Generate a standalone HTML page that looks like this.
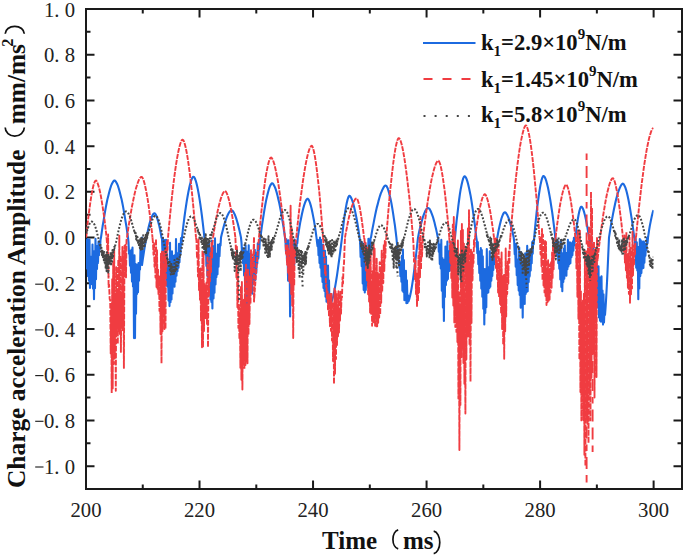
<!DOCTYPE html>
<html><head><meta charset="utf-8"><style>html,body{margin:0;padding:0;background:#fff;width:685px;height:556px;overflow:hidden}svg{display:block}</style></head>
<body><svg width="685" height="556" viewBox="0 0 685 556"><rect x="86.0" y="9.0" width="596.0" height="480.0" fill="none" stroke="#1a1a1a" stroke-width="2"/><path d="M142.76 489.0v-4.5M142.76 9.0v4.5M199.52 489.0v-8.5M199.52 9.0v8.5M256.29 489.0v-4.5M256.29 9.0v4.5M313.05 489.0v-8.5M313.05 9.0v8.5M369.81 489.0v-4.5M369.81 9.0v4.5M426.57 489.0v-8.5M426.57 9.0v8.5M483.33 489.0v-4.5M483.33 9.0v4.5M540.10 489.0v-8.5M540.10 9.0v8.5M596.86 489.0v-4.5M596.86 9.0v4.5M653.62 489.0v-8.5M653.62 9.0v8.5M86.0 489.00h4.5M682.0 489.00h-4.5M86.0 466.14h8.5M682.0 466.14h-8.5M86.0 443.29h4.5M682.0 443.29h-4.5M86.0 420.43h8.5M682.0 420.43h-8.5M86.0 397.57h4.5M682.0 397.57h-4.5M86.0 374.71h8.5M682.0 374.71h-8.5M86.0 351.86h4.5M682.0 351.86h-4.5M86.0 329.00h8.5M682.0 329.00h-8.5M86.0 306.14h4.5M682.0 306.14h-4.5M86.0 283.29h8.5M682.0 283.29h-8.5M86.0 260.43h4.5M682.0 260.43h-4.5M86.0 237.57h8.5M682.0 237.57h-8.5M86.0 214.71h4.5M682.0 214.71h-4.5M86.0 191.86h8.5M682.0 191.86h-8.5M86.0 169.00h4.5M682.0 169.00h-4.5M86.0 146.14h8.5M682.0 146.14h-8.5M86.0 123.29h4.5M682.0 123.29h-4.5M86.0 100.43h8.5M682.0 100.43h-8.5M86.0 77.57h4.5M682.0 77.57h-4.5M86.0 54.71h8.5M682.0 54.71h-8.5M86.0 31.86h4.5M682.0 31.86h-4.5" stroke="#1a1a1a" stroke-width="2" fill="none"/><g font-family="Liberation Serif" font-size="20.7" fill="#222"><text x="75" y="16.5" text-anchor="end" xml:space="preserve">1. 0</text><text x="75" y="62.2" text-anchor="end" xml:space="preserve">0. 8</text><text x="75" y="107.9" text-anchor="end" xml:space="preserve">0. 6</text><text x="75" y="153.6" text-anchor="end" xml:space="preserve">0. 4</text><text x="75" y="199.4" text-anchor="end" xml:space="preserve">0. 2</text><text x="75" y="245.1" text-anchor="end" xml:space="preserve">0. 0</text><text x="75" y="290.8" text-anchor="end" xml:space="preserve">0. 2</text><path d="M35.2 284.2H43.5" stroke="#222" stroke-width="1.15"/><text x="75" y="336.5" text-anchor="end" xml:space="preserve">0. 4</text><path d="M35.2 329.9H43.5" stroke="#222" stroke-width="1.15"/><text x="75" y="382.2" text-anchor="end" xml:space="preserve">0. 6</text><path d="M35.2 375.6H43.5" stroke="#222" stroke-width="1.15"/><text x="75" y="427.9" text-anchor="end" xml:space="preserve">0. 8</text><path d="M35.2 421.3H43.5" stroke="#222" stroke-width="1.15"/><text x="75" y="473.6" text-anchor="end" xml:space="preserve">1. 0</text><path d="M35.2 467.0H43.5" stroke="#222" stroke-width="1.15"/><text x="86.0" y="516.5" text-anchor="middle">200</text><text x="199.5" y="516.5" text-anchor="middle">220</text><text x="313.0" y="516.5" text-anchor="middle">240</text><text x="426.6" y="516.5" text-anchor="middle">260</text><text x="540.1" y="516.5" text-anchor="middle">280</text><text x="653.6" y="516.5" text-anchor="middle">300</text></g><g font-family="Liberation Serif" font-weight="bold" font-size="25" fill="#111"><text x="322" y="548.5">Time</text><text x="403" y="548.5">ms</text></g><path d="M398.2 529.9 A6.6 9.7 0 0 0 398.2 548.9" stroke="#111" stroke-width="1.7" fill="none"/><path d="M433.7 531.2 A7.0 11.3 0 0 1 433.7 553.6" stroke="#111" stroke-width="1.7" fill="none"/><g transform="translate(24.5,487) rotate(-90)" font-family="Liberation Serif" font-weight="bold" font-size="25" fill="#111"><text x="-1" y="0" font-size="25.4">Charge acceleration Amplitude</text><text x="362.8" y="0" font-size="25.3">mm/ms</text><text x="440.3" y="-11.3" font-size="16.5">2</text><path d="M359.4 -19.3 A8.6 9.55 0 0 0 359.4 -0.2" stroke="#111" stroke-width="1.7" fill="none"/><path d="M453.2 -19.3 A7.5 9.55 0 0 1 453.2 -0.2" stroke="#111" stroke-width="1.7" fill="none"/></g><defs><clipPath id="pc"><rect x="86.0" y="9.0" width="567.6" height="480.0"/></clipPath></defs><g clip-path="url(#pc)" fill="none" stroke-linejoin="round"><path d="M86.0 267.3L86.5 240.3L87.0 268.7L87.5 239.0L88.0 276.2L88.5 248.3L89.0 280.8L89.5 239.6L90.0 287.9L90.5 256.6L91.0 283.9L91.5 259.9L92.0 284.2L92.5 244.5L93.0 288.6L93.5 257.0L94.0 299.3L94.5 251.0L95.0 288.3L95.5 238.9L96.0 279.2L96.5 245.9L97.0 268.9L97.5 247.3L98.0 262.9L98.5 241.5L99.0 255.3L99.5 243.8L100.0 248.9L100.5 239.7L101.0 237.6L101.0 237.6L101.8 231.8L102.6 226.3L103.5 221.1L104.3 216.1L105.1 211.4L105.9 206.9L106.7 202.8L107.5 198.9L108.4 195.4L109.2 192.2L110.0 189.3L110.8 186.7L111.6 184.5L112.5 182.7L113.3 181.4L114.1 180.6L114.9 180.6L115.7 181.4L116.5 182.7L117.4 184.5L118.2 186.7L119.0 189.3L119.8 192.2L120.6 195.4L121.5 198.9L122.3 202.8L123.1 206.9L123.9 211.4L124.7 216.1L125.5 221.1L126.4 226.3L127.2 231.8L128.0 237.6L128.0 237.6L128.5 242.3L129.0 253.7L129.5 251.9L130.0 265.8L130.5 250.8L131.0 272.7L131.5 249.5L132.0 281.6L132.5 247.6L133.0 286.4L133.5 261.4L134.0 338.1L134.5 255.4L135.0 338.1L135.5 263.8L136.0 313.7L136.5 273.8L137.0 294.0L137.5 264.5L138.0 292.2L138.5 263.0L139.0 280.7L139.5 264.4L140.0 269.6L140.5 246.9L141.0 257.5L141.5 243.2L142.0 237.6L142.0 265.0L142.8 259.4L143.6 254.0L144.4 248.9L145.2 244.1L146.1 239.5L146.9 235.3L147.7 231.4L148.5 227.8L149.3 224.5L150.1 221.6L150.9 219.0L151.8 216.9L152.6 215.1L153.4 213.9L154.2 213.2L155.0 213.5L155.8 214.7L156.6 216.5L157.4 218.9L158.2 221.8L159.1 225.1L159.9 228.8L160.7 233.0L161.5 237.6L161.5 237.6L162.0 238.4L162.5 253.2L163.0 238.3L163.5 261.8L164.0 239.9L164.5 273.1L165.0 246.4L165.5 276.7L166.0 239.7L166.5 285.6L167.0 254.0L167.5 286.6L168.0 265.3L168.5 300.6L169.0 267.2L169.5 306.1L170.0 242.7L170.5 302.3L171.0 253.9L171.5 299.5L172.0 251.4L172.5 293.4L173.0 255.6L173.5 286.1L174.0 258.5L174.5 286.7L175.0 255.0L175.5 281.7L176.0 239.0L176.5 275.8L177.0 255.4L177.5 271.1L178.0 253.1L178.5 267.8L179.0 243.9L179.5 262.1L180.0 244.9L180.5 254.1L181.0 238.0L181.5 244.3L182.0 237.6L182.0 237.6L182.8 230.5L183.6 223.8L184.4 217.5L185.2 211.6L186.0 206.1L186.8 200.9L187.6 196.2L188.4 191.9L189.2 188.0L190.0 184.6L190.8 181.7L191.6 179.4L192.4 177.7L193.2 176.7L194.0 176.9L194.8 178.2L195.6 180.3L196.4 183.0L197.2 186.3L198.0 190.1L198.8 194.5L199.6 199.3L200.4 204.6L201.2 210.3L202.0 216.5L202.8 223.1L203.6 230.2L204.4 237.6L204.4 237.6L204.9 237.9L205.4 254.4L205.9 239.5L206.4 265.9L206.9 244.4L207.4 276.1L207.9 258.2L208.4 279.9L208.9 241.7L209.4 288.4L209.9 248.1L210.4 299.4L210.9 269.4L211.4 302.1L211.9 240.9L212.4 308.4L213.0 246.1L213.5 298.5L214.0 267.2L214.5 292.8L215.0 238.4L215.5 284.4L216.0 263.5L216.5 276.9L217.0 253.6L217.5 274.3L218.0 244.5L218.5 266.8L219.0 248.3L219.5 256.2L220.0 243.9L220.5 245.6L221.0 237.6L221.0 237.6L221.8 234.1L222.6 230.9L223.4 227.8L224.2 224.9L225.0 222.3L225.8 219.9L226.6 217.7L227.4 215.7L228.2 214.0L229.0 212.5L229.8 211.4L230.6 210.6L231.4 210.2L232.2 210.5L233.0 211.3L233.8 212.6L234.6 214.2L235.4 216.2L236.2 218.4L237.0 221.0L237.8 223.8L238.6 226.9L239.4 230.2L240.2 233.8L241.0 237.6L241.0 237.6L241.5 242.9L242.0 252.4L242.5 247.9L243.0 263.1L243.6 251.5L244.1 275.4L244.6 250.0L245.1 287.7L245.6 245.4L246.1 300.7L246.6 251.4L247.1 306.1L247.6 270.1L248.1 301.2L248.7 245.3L249.2 300.0L249.7 268.0L250.2 290.9L250.7 253.5L251.2 291.2L251.7 263.2L252.2 293.7L252.7 257.6L253.3 283.6L253.8 259.6L254.3 281.0L254.8 249.8L255.3 280.0L255.8 255.2L256.3 273.0L256.8 252.5L257.3 263.4L257.8 243.3L258.4 258.4L258.9 246.8L259.4 249.0L259.9 238.3L260.4 237.6L260.4 237.6L261.2 231.3L262.0 225.3L262.9 219.6L263.7 214.3L264.5 209.3L265.3 204.7L266.1 200.5L267.0 196.6L267.8 193.2L268.6 190.2L269.4 187.6L270.2 185.6L271.1 184.1L271.9 183.2L272.7 183.5L273.5 184.4L274.3 185.9L275.2 187.9L276.0 190.2L276.8 192.9L277.6 196.0L278.4 199.4L279.3 203.2L280.1 207.2L280.9 211.6L281.7 216.2L282.5 221.1L283.4 226.3L284.2 231.8L285.0 237.6L285.0 237.6L285.5 242.3L286.0 252.0L286.5 239.4L287.0 261.5L287.6 254.6L288.1 280.7L288.6 240.3L289.1 277.3L289.6 252.2L290.1 316.4L290.6 258.6L291.1 275.2L291.7 255.4L292.2 279.3L292.7 242.4L293.2 269.0L293.7 242.2L294.2 265.2L294.7 239.5L295.2 257.7L295.8 241.4L296.3 252.4L296.8 241.3L297.3 243.3L297.8 237.6L297.8 237.6L298.6 232.3L299.4 227.3L300.2 222.6L301.1 218.3L301.9 214.3L302.7 210.8L303.5 207.6L304.3 204.8L305.1 202.5L305.9 200.6L306.7 199.3L307.6 198.7L308.4 199.3L309.2 200.8L310.0 202.9L310.8 205.6L311.6 208.8L312.4 212.5L313.2 216.6L314.1 221.3L314.9 226.3L315.7 231.7L316.5 237.6L316.5 237.6L317.0 242.1L317.5 246.2L318.0 240.0L318.5 255.3L319.0 241.0L319.5 263.1L320.0 237.6L320.5 267.7L321.0 239.9L321.5 276.4L322.0 249.0L322.5 282.0L323.0 244.6L323.5 288.1L324.0 254.1L324.5 291.0L325.0 250.7L325.5 296.7L326.0 256.6L326.5 301.7L327.0 268.1L327.5 301.7L328.0 265.6L328.5 300.4L329.0 280.4L329.5 304.0L330.0 295.2L330.5 304.3L331.0 303.3L331.5 302.0L332.0 300.5L332.5 298.8L333.0 297.0L333.5 294.9L334.0 292.6L334.5 290.1L335.0 287.4L335.5 284.6L336.0 281.6L336.5 278.5L337.0 275.3L337.5 271.9L338.0 268.3L338.5 264.7L339.0 261.0L339.5 257.2L340.0 253.4L340.5 249.5L341.0 245.5L341.5 241.6L342.0 237.6L342.0 237.6L342.8 230.2L343.6 223.4L344.4 217.2L345.2 211.7L346.0 206.9L346.8 202.8L347.6 199.5L348.4 197.1L349.2 195.8L350.0 196.1L350.8 197.2L351.6 198.8L352.4 201.0L353.2 203.5L354.0 206.5L354.8 209.9L355.6 213.7L356.4 217.8L357.2 222.3L358.0 227.0L358.8 232.1L359.6 237.6L359.6 237.6L360.1 241.8L360.6 257.0L361.2 250.7L361.7 266.1L362.2 242.3L362.7 283.4L363.2 263.2L363.7 290.0L364.3 252.2L364.8 292.4L365.3 243.2L365.8 290.0L366.3 252.8L366.9 285.5L367.4 252.9L367.9 275.2L368.4 238.9L368.9 264.0L369.4 248.4L370.0 253.2L370.5 238.2L371.0 237.6L371.0 237.6L371.8 232.7L372.6 228.1L373.5 223.6L374.3 219.4L375.1 215.4L375.9 211.5L376.7 207.9L377.6 204.6L378.4 201.4L379.2 198.5L380.0 195.8L380.8 193.4L381.7 191.3L382.5 189.4L383.3 187.9L384.1 186.6L384.9 185.8L385.7 185.5L386.6 186.2L387.4 187.7L388.2 189.9L389.0 192.6L389.8 195.9L390.7 199.6L391.5 203.8L392.3 208.4L393.1 213.4L393.9 218.9L394.8 224.7L395.6 231.0L396.4 237.6L396.4 237.6L396.9 242.8L397.4 248.0L397.9 253.1L398.4 258.1L398.9 263.0L399.4 267.7L399.9 263.0L400.4 276.3L400.9 262.0L401.4 281.6L401.9 255.7L402.4 290.8L402.9 249.5L403.4 292.1L403.9 260.0L404.4 300.2L404.9 271.4L405.4 298.8L405.9 270.8L406.4 303.3L406.9 280.4L407.5 303.0L408.0 295.3L408.5 301.3L409.0 299.9L409.5 298.2L410.0 296.3L410.5 294.1L411.0 291.6L411.5 288.8L412.0 285.9L412.5 282.7L413.0 279.3L413.5 275.7L414.0 271.9L414.5 268.0L415.0 263.9L415.5 259.7L416.0 255.4L416.5 251.0L417.0 246.6L417.5 242.1L418.0 237.6L418.0 237.6L418.8 233.5L419.6 229.7L420.5 226.2L421.3 222.9L422.1 219.9L422.9 217.2L423.8 214.7L424.6 212.6L425.4 210.8L426.2 209.4L427.1 208.4L427.9 207.9L428.7 208.2L429.6 209.1L430.4 210.5L431.2 212.3L432.0 214.4L432.9 216.8L433.7 219.6L434.5 222.6L435.3 226.0L436.2 229.6L437.0 233.4L437.8 237.6L437.8 237.6L438.3 237.6L438.8 251.8L439.3 244.2L439.8 263.9L440.3 245.9L440.8 268.4L441.3 239.9L441.8 290.7L442.4 258.1L442.9 307.6L443.4 263.2L443.9 321.0L444.4 259.5L444.9 297.0L445.4 246.6L445.9 285.1L446.4 256.2L446.9 280.6L447.4 241.5L447.9 279.1L448.4 256.3L448.9 271.2L449.4 251.1L449.9 270.6L450.4 241.9L451.0 265.9L451.5 244.4L452.0 261.0L452.5 242.7L453.0 254.5L453.5 245.0L454.0 246.3L454.5 239.3L455.0 237.6L455.0 237.6L455.8 228.9L456.6 220.8L457.5 213.3L458.3 206.3L459.1 200.0L459.9 194.2L460.7 189.2L461.6 184.8L462.4 181.2L463.2 178.4L464.0 176.6L464.8 176.2L465.6 177.1L466.5 178.8L467.3 181.1L468.1 184.0L468.9 187.4L469.7 191.3L470.6 195.6L471.4 200.4L472.2 205.6L473.0 211.3L473.8 217.3L474.7 223.7L475.5 230.4L476.3 237.6L476.3 237.6L476.8 240.4L477.3 253.1L477.8 242.0L478.3 264.2L478.8 251.6L479.3 273.1L479.8 251.4L480.3 280.8L480.8 248.0L481.3 288.6L481.8 250.1L482.3 296.8L482.8 256.2L483.3 308.7L483.8 269.5L484.3 324.4L484.8 269.0L485.3 313.0L485.8 276.8L486.3 307.2L486.8 249.1L487.3 292.9L487.8 272.6L488.3 292.4L488.8 267.1L489.3 288.3L489.8 251.2L490.3 286.7L490.8 258.9L491.3 280.6L491.8 263.3L492.3 275.9L492.8 256.6L493.3 270.0L493.8 254.4L494.3 264.3L494.8 245.3L495.3 258.8L495.8 241.7L496.3 249.3L496.8 239.0L497.3 237.6L497.3 237.6L498.1 233.0L498.9 228.9L499.8 225.1L500.6 221.7L501.4 218.8L502.2 216.3L503.0 214.4L503.9 212.9L504.7 212.2L505.5 212.5L506.3 213.5L507.1 214.8L508.0 216.6L508.8 218.7L509.6 221.1L510.4 223.8L511.2 226.8L512.1 230.1L512.9 233.7L513.7 237.6L513.7 237.6L514.2 241.9L514.7 254.1L515.2 249.1L515.7 266.6L516.2 243.7L516.7 275.2L517.2 261.4L517.7 285.1L518.2 259.3L518.7 290.6L519.2 247.5L519.7 294.9L520.2 253.5L520.7 307.7L521.2 252.3L521.7 299.3L522.2 262.0L522.7 317.6L523.2 261.4L523.7 298.8L524.2 265.4L524.7 303.9L525.2 253.4L525.7 293.9L526.2 254.4L526.7 291.9L527.2 245.9L527.7 291.2L528.2 252.0L528.7 282.1L529.2 259.9L529.7 276.4L530.2 249.3L530.7 270.6L531.2 249.3L531.7 263.3L532.2 242.1L532.7 253.8L533.2 240.5L533.7 244.2L534.2 237.6L534.2 237.6L535.0 228.7L535.8 220.4L536.6 212.7L537.4 205.6L538.3 199.1L539.1 193.4L539.9 188.3L540.7 183.9L541.5 180.4L542.3 177.7L543.1 176.1L543.9 176.1L544.8 177.2L545.6 179.0L546.4 181.4L547.2 184.4L548.0 187.8L548.8 191.7L549.6 196.1L550.4 200.8L551.2 206.0L552.1 211.6L552.9 217.5L553.7 223.8L554.5 230.5L555.3 237.6L555.3 237.6L555.8 239.2L556.3 247.7L556.8 246.0L557.3 256.0L557.8 241.0L558.3 263.2L558.8 252.9L559.3 268.6L559.8 248.5L560.3 279.5L560.8 240.3L561.3 286.9L561.8 253.1L562.3 291.3L562.8 257.9L563.3 281.9L563.8 248.6L564.3 278.7L564.8 245.2L565.3 275.4L565.9 255.6L566.4 275.7L566.9 252.9L567.4 269.2L567.9 239.9L568.4 266.5L568.9 250.2L569.4 264.1L569.9 242.2L570.4 263.2L570.9 243.0L571.4 257.3L571.9 244.4L572.4 255.2L572.9 241.4L573.4 250.7L573.9 237.9L574.4 245.3L574.9 239.7L575.4 237.6L575.4 237.6L576.2 230.8L577.0 224.6L577.8 219.3L578.6 214.7L579.4 211.0L580.2 208.3L581.0 206.7L581.8 206.8L582.6 208.0L583.4 209.9L584.2 212.4L585.0 215.4L585.8 219.0L586.6 223.0L587.4 227.4L588.2 232.3L589.0 237.6L589.0 237.6L589.5 238.0L590.0 247.2L590.5 240.2L591.0 256.8L591.5 240.8L592.0 262.8L592.5 248.1L593.0 271.5L593.5 247.1L594.0 278.5L594.5 254.6L595.0 288.6L595.5 255.9L596.0 300.2L596.5 263.2L597.0 303.6L597.5 269.9L598.0 307.7L598.5 266.2L599.0 317.5L599.5 282.9L600.0 320.7L600.5 277.4L601.0 321.7L601.5 276.3L602.0 320.1L602.5 290.5L603.0 324.6L603.5 294.3L604.0 322.4L604.5 308.9L605.0 314.8L605.5 308.3L606.0 300.6L606.5 291.8L607.0 282.1L607.5 271.7L608.0 260.6L608.5 249.2L609.0 237.6L609.0 237.6L609.8 232.3L610.6 227.3L611.4 222.5L612.3 217.9L613.1 213.6L613.9 209.5L614.7 205.7L615.5 202.1L616.3 198.8L617.1 195.7L617.9 193.0L618.8 190.5L619.6 188.4L620.4 186.6L621.2 185.2L622.0 184.1L622.8 183.6L623.6 184.1L624.4 185.5L625.3 187.4L626.1 189.8L626.9 192.8L627.7 196.2L628.5 200.0L629.3 204.3L630.1 208.9L630.9 213.9L631.8 219.3L632.6 225.1L633.4 231.1L634.2 237.6L634.2 237.6L634.7 238.3L635.2 254.0L635.7 238.7L636.2 267.8L636.8 242.2L637.3 270.4L637.8 253.5L638.3 299.3L638.8 246.9L639.3 288.4L639.8 239.0L640.3 276.1L640.8 240.3L641.4 273.1L641.9 250.4L642.4 268.5L642.9 241.6L643.4 267.9L643.9 241.6L644.4 262.7L644.9 243.5L645.4 255.6L646.0 245.9L646.5 249.9L647.0 237.7L647.5 243.5L648.0 237.6L648.0 237.6L648.9 231.4L649.8 225.9L650.8 220.9L651.7 216.6L652.6 212.9L653.5 210.0" stroke="#1c6ae0" stroke-width="2.1"/><path d="M86.2 237.6L87.0 229.6L87.8 222.1L88.6 215.1L89.5 208.6L90.3 202.7L91.1 197.4L91.9 192.7L92.7 188.7L93.5 185.3L94.4 182.7L95.2 181.0L96.0 180.5L96.8 181.4L97.6 183.2L98.4 185.6L99.3 188.7L100.1 192.2L100.9 196.3L101.7 200.9L102.5 205.9L103.3 211.4L104.2 217.3L105.0 223.7L105.8 230.4L106.6 237.6M127.0 237.6L127.0 237.6L127.8 231.8L128.6 226.3L129.5 221.0L130.3 216.0L131.1 211.3L131.9 206.7L132.8 202.5L133.6 198.5L134.4 194.8L135.2 191.4L136.0 188.3L136.9 185.5L137.7 183.0L138.5 180.9L139.3 179.2L140.2 177.8L141.0 177.0L141.8 176.9L142.6 178.0L143.5 180.0L144.3 182.6L145.1 185.9L145.9 189.7L146.7 194.0L147.6 198.9L148.4 204.2L149.2 210.0L150.0 216.2L150.9 222.9L151.7 230.0L152.5 237.6M168.0 237.6L168.0 237.6L168.8 228.6L169.6 220.0L170.4 211.8L171.2 203.9L172.0 196.4L172.8 189.3L173.6 182.6L174.4 176.3L175.2 170.4L176.0 164.9L176.8 159.9L177.6 155.4L178.4 151.3L179.2 147.7L180.0 144.7L180.8 142.3L181.6 140.5L182.4 139.6L183.2 140.0L184.0 141.6L184.8 144.1L185.6 147.2L186.4 151.0L187.2 155.4L188.0 160.4L188.8 166.0L189.6 172.0L190.4 178.6L191.2 185.7L192.0 193.2L192.8 201.2L193.6 209.6L194.4 218.5L195.2 227.8L196.0 237.6M213.0 237.6L213.0 237.6L213.8 232.4L214.6 227.5L215.4 222.9L216.2 218.5L217.0 214.3L217.8 210.5L218.6 207.0L219.4 203.7L220.2 200.8L221.0 198.1L221.8 195.9L222.6 194.0L223.4 192.5L224.2 191.4L225.0 190.9L225.8 191.5L226.6 192.9L227.4 194.8L228.2 197.2L229.0 200.1L229.8 203.5L230.6 207.2L231.4 211.4L232.2 215.9L233.0 220.8L233.8 226.0L234.6 231.6L235.4 237.6M254.0 237.6L254.0 301.6L254.8 290.0L255.6 278.8L256.4 268.1L257.3 257.7L258.1 247.8L258.9 238.3L259.7 229.3L260.5 220.7L261.3 212.5L262.2 204.8L263.0 197.6L263.8 190.9L264.6 184.7L265.4 179.0L266.2 173.9L267.1 169.4L267.9 165.5L268.7 162.2L269.5 159.7L270.3 158.0L271.1 157.4L271.9 158.2L272.8 159.7L273.6 161.9L274.4 164.6L275.2 167.7L276.0 171.4L276.8 175.5L277.7 180.0L278.5 184.9L279.3 190.3L280.1 196.0L280.9 202.0L281.7 208.4L282.6 215.2L283.4 222.3L284.2 229.8L285.0 237.6M296.3 237.6L296.3 237.6L297.1 229.5L297.9 221.8L298.7 214.3L299.5 207.2L300.3 200.4L301.2 194.0L302.0 187.8L302.8 182.1L303.6 176.6L304.4 171.6L305.2 166.9L306.0 162.6L306.8 158.7L307.6 155.3L308.4 152.3L309.2 149.7L310.1 147.7L310.9 146.3L311.7 145.7L312.5 146.7L313.3 149.0L314.1 152.3L314.9 156.5L315.7 161.5L316.5 167.3L317.3 173.9L318.1 181.1L319.0 188.9L319.8 197.5L320.6 206.6L321.4 216.3L322.2 226.7L323.0 237.6M345.0 237.6L345.0 237.6L345.8 232.9L346.7 228.5L347.5 224.3L348.3 220.4L349.1 216.7L350.0 213.3L350.8 210.2L351.6 207.4L352.4 205.0L353.3 202.8L354.1 201.0L354.9 199.6L355.7 198.6L356.6 198.3L357.4 199.3L358.2 201.5L359.0 204.5L359.9 208.3L360.7 212.9L361.5 218.1L362.3 224.0L363.2 230.5L364.0 237.6M386.3 237.6L386.3 237.6L387.1 226.9L387.9 216.6L388.7 207.0L389.5 197.8L390.3 189.2L391.2 181.1L392.0 173.6L392.8 166.8L393.6 160.5L394.4 154.9L395.2 149.9L396.0 145.7L396.8 142.3L397.6 139.7L398.4 138.2L399.2 138.2L400.1 139.5L400.9 141.7L401.7 144.5L402.5 148.0L403.3 152.0L404.1 156.6L404.9 161.7L405.7 167.3L406.5 173.3L407.3 179.9L408.1 186.9L409.0 194.3L409.8 202.1L410.6 210.4L411.4 219.0L412.2 228.1L413.0 237.6M423.0 237.6L423.0 237.6L423.8 230.7L424.6 224.0L425.5 217.7L426.3 211.6L427.1 205.8L427.9 200.3L428.8 195.1L429.6 190.2L430.4 185.6L431.2 181.3L432.0 177.4L432.9 173.8L433.7 170.6L434.5 167.7L435.3 165.3L436.1 163.3L437.0 161.8L437.8 160.8L438.6 160.7L439.4 162.2L440.3 164.6L441.1 168.0L441.9 172.1L442.7 176.9L443.5 182.4L444.4 188.6L445.2 195.3L446.0 202.7L446.8 210.6L447.7 219.0L448.5 228.0L449.3 237.6M475.0 237.6L475.0 237.6L475.8 231.5L476.7 225.9L477.5 220.6L478.3 215.7L479.1 211.3L480.0 207.2L480.8 203.7L481.6 200.6L482.4 198.0L483.3 196.0L484.1 194.6L484.9 194.2L485.7 195.0L486.6 196.8L487.4 199.2L488.2 202.2L489.0 205.8L489.9 209.9L490.7 214.5L491.5 219.6L492.3 225.2L493.2 231.2L494.0 237.6M510.3 237.6L510.3 237.6L511.1 227.8L511.9 218.5L512.7 209.5L513.5 200.8L514.4 192.6L515.2 184.8L516.0 177.3L516.8 170.3L517.6 163.7L518.4 157.6L519.2 151.9L520.0 146.6L520.8 141.9L521.7 137.6L522.5 133.9L523.3 130.8L524.1 128.2L524.9 126.4L525.7 125.4L526.5 125.9L527.3 127.8L528.1 130.6L529.0 134.2L529.8 138.6L530.6 143.6L531.4 149.3L532.2 155.7L533.0 162.6L533.8 170.1L534.6 178.2L535.4 186.8L536.3 196.0L537.1 205.6L537.9 215.8L538.7 226.4L539.5 237.6M555.6 237.6L555.6 237.6L556.4 230.7L557.2 224.2L558.1 218.1L558.9 212.5L559.7 207.2L560.5 202.5L561.4 198.2L562.2 194.4L563.0 191.1L563.9 188.4L564.7 186.3L565.5 185.0L566.3 184.6L567.1 185.8L568.0 188.0L568.8 191.0L569.6 194.7L570.5 199.1L571.3 204.1L572.1 209.7L572.9 215.9L573.8 222.6L574.6 229.8L575.4 237.6M597.0 237.6L597.5 260.4L598.3 253.1L599.1 246.0L600.0 239.2L600.8 232.8L601.6 226.6L602.4 220.7L603.2 215.2L604.1 209.9L604.9 205.0L605.7 200.5L606.5 196.3L607.3 192.5L608.2 189.0L609.0 186.0L609.8 183.3L610.6 181.2L611.4 179.5L612.2 178.4L613.1 178.3L613.9 179.5L614.7 181.6L615.5 184.6L616.3 188.2L617.2 192.4L618.0 197.3L618.8 202.7L619.6 208.6L620.4 215.1L621.3 222.1L622.1 229.6L622.9 237.6M636.0 237.6L636.0 237.6L636.8 228.8L637.7 220.4L638.5 212.3L639.3 204.5L640.2 197.0L641.0 189.8L641.8 182.9L642.7 176.4L643.5 170.2L644.3 164.4L645.2 158.9L646.0 153.8L646.8 149.1L647.7 144.8L648.5 140.9L649.3 137.4L650.2 134.4L651.0 131.9L651.8 129.9L652.7 128.5L653.5 127.9" stroke="#f03c41" stroke-width="1.9" stroke-dasharray="5 1.1"/><path d="M106.6 237.6L106.6 237.6L107.1 245.3L107.6 265.7L108.1 234.4L108.6 287.1L109.1 284.7L109.7 299.3L110.2 299.8L110.7 353.4L111.2 308.2L111.7 393.0L112.2 279.2L112.7 388.4L113.2 261.6L113.7 364.0L114.2 249.5L114.8 358.2L115.3 293.6L115.8 390.7L116.3 267.3L116.8 331.5L117.3 293.4L117.8 344.0L118.3 259.4L118.8 330.7L119.3 235.6L119.9 334.0L120.4 255.7L120.9 351.9L121.4 292.7L121.9 326.3L122.4 247.0L122.9 330.3L123.4 251.6L123.9 367.9L124.5 245.8L125.0 270.5L125.5 245.0L126.0 277.4L126.5 240.2L127.0 237.6M152.5 237.6L152.5 237.6L153.0 243.3L153.5 254.7L154.0 243.2L154.5 266.8L155.0 258.4L155.5 277.6L156.0 239.0L156.5 287.0L157.0 250.2L157.5 288.7L158.0 269.6L158.5 295.2L159.0 276.8L159.5 310.9L160.0 276.3L160.5 334.1L161.0 253.6L161.5 363.3L162.0 251.6L162.5 331.2L163.0 251.7L163.5 316.4L164.0 267.5L164.5 329.0L165.0 250.8L165.5 329.0L166.0 248.5L166.5 267.1L167.0 240.2L167.5 250.0L168.0 237.6M196.0 237.6L196.0 237.6L196.5 240.8L197.0 258.2L197.5 252.0L198.0 276.6L198.5 238.5L199.0 290.0L199.5 270.0L200.0 299.7L200.5 268.4L201.0 320.4L201.5 281.5L202.0 347.3L202.5 250.4L203.0 347.3L203.5 253.6L204.0 331.1L204.5 283.9L205.0 314.8L205.5 284.1L206.0 319.8L206.5 282.4L207.0 323.9L207.5 256.2L208.0 347.3L208.5 273.3L209.0 295.7L209.5 261.6L210.0 281.3L210.5 253.0L211.0 272.0L211.5 243.1L212.0 257.5L212.5 243.2L213.0 237.6M235.4 237.6L235.4 237.6L235.9 249.6L236.4 277.4L236.9 246.8L237.4 307.2L237.9 273.0L238.4 327.9L238.9 304.0L239.4 339.2L239.9 314.0L240.4 367.8L240.9 286.2L241.4 379.8L241.9 281.9L242.4 389.6L242.9 301.1L243.4 362.8L243.9 299.6L244.4 369.1L245.0 272.0L245.5 365.0L246.0 264.6L246.5 361.0L247.0 306.1L247.5 363.3L248.0 269.6L248.5 334.8L249.0 276.1L249.5 324.1L250.0 276.8L250.5 304.0L251.0 250.1L251.5 292.1L252.0 264.4L252.5 272.7L253.0 254.3L253.5 253.6L254.0 237.6M285.0 237.6L285.0 237.6L285.5 238.8L286.0 253.7L286.5 246.2L287.1 264.6L287.6 245.4L288.1 272.7L288.6 248.9L289.1 280.5L289.6 258.8L290.1 282.7L290.6 205.6L291.2 294.1L291.7 228.2L292.2 305.6L292.7 237.8L293.2 338.1L293.7 249.9L294.2 285.6L294.8 247.5L295.3 255.4L295.8 239.7L296.3 237.6M323.0 237.6L323.0 237.6L323.5 243.0L324.0 258.5L324.5 258.5L325.0 273.3L325.5 265.7L326.0 286.9L326.5 284.7L327.0 298.8L327.5 290.2L328.0 309.4L328.5 294.7L329.0 316.5L329.5 309.5L330.0 326.3L330.5 293.0L331.0 330.9L331.5 294.0L332.0 340.6L332.5 301.9L333.0 361.1L333.5 304.1L334.0 383.9L334.5 288.4L335.0 374.5L335.5 291.2L336.0 359.0L336.5 293.2L337.0 345.1L337.5 305.7L338.0 336.3L338.5 291.2L339.0 332.5L339.5 308.6L340.0 321.4L340.5 291.7L341.0 313.6L341.5 297.3L342.0 297.3L342.5 277.1L343.0 283.4L343.5 266.9L344.0 263.6L344.5 249.0L345.0 237.6M364.0 237.6L364.0 237.6L364.5 239.1L365.0 255.8L365.5 242.6L366.0 270.5L366.5 259.6L367.0 280.3L367.5 246.6L368.1 294.3L368.6 256.2L369.1 301.5L369.6 257.7L370.1 312.6L370.6 253.3L371.1 313.8L371.6 285.9L372.1 325.7L372.6 271.2L373.1 322.1L373.6 244.2L374.1 323.5L374.6 248.6L375.1 327.0L375.7 272.3L376.2 326.2L376.7 258.7L377.2 326.3L377.7 272.6L378.2 322.7L378.7 274.7L379.2 317.5L379.7 262.2L380.2 314.7L380.7 267.7L381.2 302.8L381.7 250.6L382.2 291.8L382.8 264.7L383.3 283.1L383.8 244.4L384.3 270.9L384.8 240.9L385.3 257.7L385.8 241.0L386.3 237.6M413.0 237.6L413.0 237.6L413.5 244.6L414.0 261.6L414.5 257.4L415.0 279.3L415.5 261.0L416.0 294.0L416.5 273.7L417.0 306.1L417.5 272.4L418.0 301.2L418.5 255.8L419.0 293.5L419.5 236.6L420.0 277.2L420.5 217.0L421.0 269.4L421.5 240.9L422.0 256.5L422.5 244.6L423.0 237.6M449.3 237.6L449.3 237.6L449.8 245.5L450.3 262.5L450.8 241.8L451.3 279.0L451.8 245.5L452.3 297.6L452.8 224.8L453.3 305.6L453.8 217.0L454.3 322.5L454.8 231.6L455.3 327.1L455.9 256.0L456.4 331.9L456.9 271.0L457.4 342.1L457.9 240.5L458.4 398.5L458.9 292.2L459.4 450.1L459.9 307.6L460.4 404.9L460.9 230.9L461.4 357.3L461.9 223.9L462.4 346.8L462.9 229.9L463.4 363.0L463.9 243.6L464.4 383.8L464.9 294.2L465.4 413.6L465.9 247.8L466.4 359.2L466.9 254.7L467.4 336.6L467.9 228.4L468.4 336.4L469.0 210.1L469.5 345.1L470.0 262.3L470.5 381.6L471.0 249.7L471.5 322.9L472.0 252.3L472.5 280.2L473.0 256.7L473.5 263.1L474.0 239.9L474.5 248.0L475.0 237.6M494.0 237.6L494.0 237.6L494.5 240.3L495.0 256.5L495.5 238.5L496.0 268.0L496.5 237.9L497.1 280.1L497.6 266.4L498.1 292.6L498.6 244.8L499.1 297.7L499.6 258.5L500.1 304.1L500.6 274.2L501.1 313.7L501.6 252.4L502.1 329.0L502.7 276.6L503.2 344.6L503.7 275.3L504.2 358.7L504.7 274.8L505.2 331.3L505.7 248.5L506.2 316.4L506.7 266.4L507.2 294.1L507.8 261.4L508.3 283.6L508.8 250.3L509.3 264.1L509.8 245.2L510.3 237.6M539.5 237.6L539.5 237.6L540.0 240.7L540.5 254.2L541.0 236.3L541.5 266.3L542.0 229.0L542.5 280.3L543.0 234.8L543.5 285.6L544.0 265.4L544.5 292.4L545.0 241.0L545.5 296.0L546.0 241.9L546.5 305.1L547.0 270.8L547.5 302.2L548.1 260.2L548.6 300.8L549.1 273.0L549.6 299.5L550.1 264.1L550.6 292.4L551.1 261.6L551.6 287.7L552.1 252.4L552.6 277.9L553.1 237.5L553.6 269.3L554.1 244.0L554.6 256.4L555.1 242.8L555.6 237.6M575.4 237.6L575.4 237.6L575.9 237.3L576.4 268.4L576.9 243.6L577.4 296.8L577.9 230.6L578.4 318.8L578.9 268.7L579.4 359.6L579.9 230.8L580.4 392.1L580.9 290.8L581.4 420.4L581.9 303.4L582.4 396.6L582.9 300.7L583.4 420.1L583.9 293.7L584.4 454.7L584.9 251.2L585.4 466.1L585.9 270.1L586.5 419.0L587.0 255.6L587.5 423.9L588.0 240.1L588.5 443.3L589.0 226.5L589.5 394.0L590.0 251.2L590.5 420.4L591.0 191.9L591.5 377.8L592.0 207.8L592.5 347.0L593.0 273.3L593.5 354.3L594.0 241.5L594.5 397.6L595.0 258.8L595.5 322.1L596.0 247.8L596.5 377.0L597.0 237.6M622.9 237.6L622.9 237.6L623.4 240.2L623.9 251.6L624.4 235.4L624.9 262.6L625.4 247.9L625.9 270.3L626.4 232.1L626.9 277.7L627.4 257.6L627.9 287.8L628.4 253.4L628.9 293.9L629.5 237.5L630.0 302.7L630.5 247.7L631.0 294.2L631.5 262.7L632.0 288.4L632.5 231.7L633.0 275.3L633.5 254.8L634.0 264.3L634.5 245.1L635.0 254.4L635.5 237.1L636.0 237.6" stroke="#f03c41" stroke-width="1.9" stroke-dasharray="5.5 1.5"/><path d="M586.6 153.5V482.5M592.6 300V457.5" stroke="#f03c41" stroke-width="1.9" stroke-dasharray="6.5 6 12 6 12 6"/><path d="M238.0 267.3L239.2 301.6M301.5 262.7L302.7 287.9M460.5 262.7L461.7 283.3M525.5 265.0L526.7 287.9M589.0 267.3L590.2 281.0M107.5 267.3L108.7 276.4M396.5 258.1L397.7 276.4" stroke="#464646" stroke-width="2" stroke-dasharray="1.8 2.6"/><path d="M86.4 233.6L86.8 229.8L87.3 230.4L87.7 227.7L88.2 227.5L88.6 226.2L89.1 225.0L89.5 224.0L90.0 223.1L90.4 222.5L90.9 222.0L91.3 221.7L91.8 221.6L92.3 221.7L92.7 222.0L93.2 222.4L93.6 223.1L94.1 223.9L94.6 224.9L95.0 226.1L95.5 227.4L96.0 228.8L96.4 230.4L96.9 232.1L97.3 233.9L97.8 235.8L98.3 237.8L98.7 239.8L99.2 241.9L99.7 242.9L100.1 247.1L100.6 245.0L101.0 251.8L101.5 247.8L102.0 255.3L102.4 250.0L102.9 257.3L103.3 251.5L103.8 260.3L104.3 252.1L104.7 262.8L105.2 254.5L105.7 268.7L106.1 254.7L106.6 271.2L107.0 252.3L107.5 266.1L108.0 254.0L108.4 271.3L108.9 256.5L109.3 264.9L109.8 256.8L110.2 263.3L110.7 252.1L111.1 265.9L111.6 252.3L112.0 261.7L112.5 250.0L112.9 258.0L113.4 251.5L113.8 251.9L114.3 246.7L114.7 248.1L115.2 245.4L115.6 244.0L116.1 242.0L116.5 239.9L117.0 237.8L117.4 235.7L117.9 233.6L118.3 231.6L118.8 229.6L119.2 227.7L119.7 225.8L120.1 224.0L120.6 222.3L121.0 220.7L121.5 219.1L121.9 217.8L122.4 216.5L122.8 215.4L123.3 214.4L123.7 213.5L124.2 212.8L124.6 212.2L125.1 211.8L125.5 211.6L126.0 211.5L126.5 211.6L126.9 211.8L127.4 212.2L127.8 212.7L128.3 213.4L128.8 214.2L129.2 215.2L129.7 216.3L130.2 217.4L130.6 218.7L131.1 220.1L131.5 221.6L132.0 223.1L132.5 224.7L132.9 226.3L133.4 228.0L133.8 228.6L134.3 231.4L134.8 230.7L135.2 234.7L135.7 232.9L136.2 239.3L136.6 236.2L137.1 240.6L137.5 236.9L138.0 243.1L138.5 240.1L138.9 245.1L139.4 239.1L139.9 248.1L140.3 238.8L140.8 249.7L141.2 238.1L141.7 247.9L142.2 238.9L142.6 249.1L143.1 235.3L143.5 246.5L144.0 237.3L144.5 247.4L144.9 237.6L145.4 243.3L145.8 233.8L146.3 239.9L146.8 233.2L147.2 237.8L147.7 232.9L148.1 233.5L148.6 230.1L149.1 230.2L149.5 227.3L150.0 226.9L150.4 225.3L150.9 223.9L151.4 222.5L151.8 221.2L152.3 220.0L152.7 218.9L153.2 218.0L153.7 217.2L154.1 216.6L154.6 216.2L155.0 215.9L155.5 215.9L156.0 216.0L156.4 216.2L156.9 216.7L157.3 217.4L157.8 218.2L158.2 219.2L158.7 220.4L159.1 221.7L159.6 223.2L160.0 224.8L160.5 226.6L160.9 228.4L161.4 230.4L161.8 232.5L162.3 234.7L162.7 236.9L163.2 239.2L163.6 241.5L164.1 243.8L164.5 246.2L165.0 248.0L165.4 251.3L165.9 252.1L166.3 255.3L166.8 255.1L167.2 259.6L167.7 258.5L168.1 264.6L168.6 260.4L169.0 267.5L169.5 260.4L169.9 271.3L170.4 264.8L170.8 274.5L171.3 262.6L171.7 273.3L172.2 265.3L172.6 274.0L173.1 274.1L173.6 268.5L174.0 273.8L174.5 259.9L174.9 272.7L175.4 266.9L175.8 271.0L176.3 261.9L176.7 269.4L177.2 258.6L177.7 265.7L178.1 260.7L178.6 263.0L179.0 257.9L179.5 258.4L179.9 254.5L180.4 255.1L180.8 250.7L181.3 250.0L181.7 247.5L182.2 245.2L182.7 243.0L183.1 240.7L183.6 238.5L184.0 236.3L184.5 234.2L184.9 232.1L185.4 230.1L185.8 228.2L186.3 226.5L186.8 224.8L187.2 223.2L187.7 221.8L188.1 220.6L188.6 219.5L189.0 218.5L189.5 217.7L189.9 217.1L190.4 216.7L190.8 216.4L191.3 216.3L191.8 216.4L192.2 216.7L192.7 217.1L193.2 217.7L193.6 218.5L194.1 219.4L194.5 220.5L195.0 221.7L195.5 223.1L195.9 224.5L196.4 226.0L196.9 227.6L197.3 228.2L197.8 230.9L198.2 229.8L198.7 234.4L199.2 231.6L199.6 239.5L200.1 234.7L200.6 240.8L201.0 237.0L201.5 243.6L202.0 237.5L202.4 247.7L202.9 241.9L203.3 248.9L203.8 239.2L204.3 252.3L204.7 238.4L205.2 249.0L205.7 234.3L206.1 254.0L206.6 239.3L207.0 247.7L207.5 237.4L207.9 246.2L208.4 239.2L208.9 247.8L209.3 239.7L209.8 241.5L210.2 234.8L210.7 240.2L211.1 232.9L211.6 235.3L212.1 231.9L212.5 231.9L213.0 229.2L213.4 228.7L213.9 226.8L214.4 225.2L214.8 223.6L215.3 222.1L215.7 220.6L216.2 219.3L216.6 218.1L217.1 217.0L217.6 216.0L218.0 215.1L218.5 214.4L218.9 213.8L219.4 213.4L219.8 213.2L220.3 213.1L220.8 213.2L221.2 213.5L221.7 213.9L222.1 214.4L222.6 215.2L223.0 216.1L223.5 217.1L223.9 218.3L224.4 219.6L224.8 221.1L225.3 222.6L225.7 224.3L226.2 226.1L226.6 227.9L227.1 229.9L227.5 231.8L228.0 233.9L228.4 235.9L228.9 238.0L229.3 240.1L229.8 241.9L230.2 244.2L230.7 244.4L231.1 251.6L231.6 247.7L232.0 255.5L232.5 248.6L232.9 259.6L233.4 252.2L233.8 258.5L234.3 251.1L234.7 270.9L235.2 255.2L235.6 262.9L236.1 257.0L236.5 264.2L237.0 249.6L237.4 264.9L237.9 265.0L238.4 256.3L238.8 271.8L239.3 253.9L239.7 263.5L240.2 252.0L240.7 271.2L241.1 250.6L241.6 259.1L242.0 254.7L242.5 257.7L242.9 251.3L243.4 252.5L243.9 246.8L244.3 248.6L244.8 243.7L245.2 244.5L245.7 241.3L246.2 240.3L246.6 238.2L247.1 236.2L247.5 234.2L248.0 232.3L248.5 230.5L248.9 228.7L249.4 227.1L249.8 225.6L250.3 224.3L250.7 223.1L251.2 222.1L251.7 221.3L252.1 220.6L252.6 220.1L253.0 219.8L253.5 219.7L254.0 219.8L254.4 220.1L254.9 220.4L255.3 221.0L255.8 221.6L256.2 222.4L256.7 223.4L257.1 224.4L257.6 225.6L258.0 226.9L258.5 228.2L258.9 229.6L259.4 231.1L259.8 232.6L260.3 232.9L260.8 235.7L261.2 234.6L261.7 240.6L262.1 237.1L262.6 241.9L263.0 240.7L263.5 245.6L263.9 238.4L264.4 247.1L264.8 240.0L265.3 254.4L265.7 239.2L266.2 250.5L266.6 244.1L267.1 255.8L267.5 243.2L268.0 258.3L268.5 236.2L268.9 256.8L269.4 246.4L269.8 256.6L270.3 241.1L270.8 249.1L271.2 241.6L271.7 249.8L272.1 239.7L272.6 244.7L273.1 236.5L273.5 243.6L274.0 238.4L274.4 238.7L274.9 235.6L275.4 235.6L275.8 233.2L276.3 231.8L276.7 230.1L277.2 228.3L277.6 226.6L278.1 224.9L278.6 223.2L279.0 221.6L279.5 220.0L279.9 218.6L280.4 217.2L280.9 215.9L281.3 214.8L281.8 213.7L282.2 212.8L282.7 212.0L283.2 211.3L283.6 210.8L284.1 210.4L284.5 210.2L285.0 210.1L285.5 210.2L285.9 210.5L286.4 211.0L286.8 211.7L287.3 212.6L287.7 213.7L288.2 214.9L288.6 216.3L289.1 217.8L289.6 219.5L290.0 221.4L290.5 223.3L290.9 225.3L291.4 227.4L291.8 229.6L292.3 231.9L292.7 234.1L293.2 237.2L293.7 238.2L294.1 241.0L294.6 241.9L295.0 249.8L295.5 245.1L295.9 249.6L296.4 248.5L296.8 262.0L297.3 247.9L297.8 256.6L298.2 249.3L298.7 270.1L299.1 250.3L299.6 278.1L300.0 254.9L300.5 262.3L300.9 249.6L301.4 267.6L301.9 250.4L302.3 262.4L302.8 256.9L303.2 275.6L303.7 255.7L304.1 260.1L304.6 252.3L305.0 264.6L305.5 250.8L305.9 263.7L306.4 251.6L306.8 253.0L307.3 248.6L307.7 249.9L308.2 245.8L308.6 248.4L309.1 243.6L309.5 243.3L310.0 241.6L310.5 239.9L310.9 238.3L311.4 236.6L311.8 235.1L312.3 233.6L312.7 232.1L313.2 230.8L313.6 229.5L314.1 228.4L314.5 227.4L315.0 226.5L315.4 225.7L315.9 225.0L316.3 224.5L316.8 224.2L317.2 223.9L317.7 223.9L318.2 223.9L318.6 224.2L319.1 224.6L319.6 225.2L320.0 225.9L320.5 226.8L320.9 227.8L321.4 228.9L321.9 230.1L322.3 231.5L322.8 232.9L323.3 234.4L323.7 235.0L324.2 237.6L324.6 236.0L325.1 240.6L325.6 237.8L326.0 244.8L326.5 238.5L327.0 246.7L327.4 241.7L327.9 250.6L328.4 240.6L328.8 253.7L329.3 243.2L329.7 252.9L330.2 241.1L330.7 254.7L331.1 246.3L331.6 257.3L332.1 240.0L332.5 254.0L333.0 248.8L333.4 253.1L333.9 241.5L334.3 251.6L334.8 243.1L335.2 251.9L335.7 240.7L336.1 247.1L336.6 239.0L337.0 244.7L337.5 239.0L337.9 241.0L338.4 237.7L338.8 237.5L339.3 234.1L339.7 234.0L340.2 232.0L340.6 230.1L341.1 228.3L341.5 226.4L342.0 224.6L342.4 222.8L342.9 221.1L343.3 219.5L343.8 217.9L344.2 216.4L344.7 215.0L345.1 213.7L345.6 212.5L346.0 211.4L346.5 210.5L346.9 209.7L347.4 209.1L347.8 208.5L348.3 208.2L348.7 207.9L349.2 207.9L349.7 207.9L350.1 208.2L350.6 208.6L351.0 209.2L351.5 209.9L351.9 210.7L352.4 211.7L352.8 212.9L353.3 214.2L353.7 215.6L354.2 217.1L354.6 218.7L355.1 220.4L355.6 222.2L356.0 224.1L356.5 226.0L356.9 228.0L357.4 230.0L357.8 232.0L358.3 234.0L358.7 235.5L359.2 238.4L359.6 238.8L360.1 241.9L360.5 240.1L361.0 246.5L361.5 242.0L361.9 248.9L362.4 246.7L362.8 251.8L363.3 244.0L363.7 254.3L364.2 247.5L364.6 261.8L365.1 251.0L365.5 260.7L366.0 245.7L366.4 265.1L366.9 265.2L367.4 251.5L367.8 268.0L368.3 249.3L368.7 263.2L369.2 245.4L369.6 260.5L370.1 248.4L370.5 253.0L371.0 249.0L371.4 255.7L371.9 242.5L372.4 250.1L372.8 243.3L373.3 244.2L373.7 240.5L374.2 240.9L374.6 237.9L375.1 237.6L375.5 236.0L376.0 234.4L376.5 233.0L376.9 231.6L377.4 230.3L377.8 229.2L378.3 228.2L378.7 227.3L379.2 226.6L379.6 226.0L380.1 225.6L380.5 225.3L381.0 225.2L381.5 225.3L381.9 225.5L382.4 225.9L382.8 226.3L383.3 227.0L383.7 227.7L384.2 228.6L384.6 229.5L385.1 230.6L385.5 231.8L386.0 233.0L386.4 234.4L386.9 235.7L387.3 237.2L387.8 238.7L388.2 240.2L388.7 240.9L389.2 244.2L389.6 243.2L390.1 247.3L390.5 244.0L391.0 249.0L391.4 245.9L391.9 251.6L392.3 244.4L392.8 261.0L393.2 248.6L393.7 267.7L394.1 250.4L394.6 257.0L395.0 246.7L395.5 257.9L395.9 245.6L396.4 268.4L396.9 251.4L397.3 257.8L397.8 243.1L398.2 260.2L398.7 250.1L399.1 266.8L399.6 244.3L400.0 253.2L400.5 249.0L400.9 250.6L401.4 243.4L401.8 247.5L402.3 240.6L402.7 245.6L403.2 239.4L403.6 240.4L404.1 237.2L404.5 237.1L405.0 234.6L405.4 232.6L405.9 230.6L406.3 228.7L406.8 226.7L407.2 224.9L407.7 223.0L408.1 221.3L408.6 219.6L409.0 218.0L409.5 216.6L409.9 215.2L410.4 213.9L410.8 212.8L411.3 211.8L411.7 211.0L412.2 210.3L412.6 209.7L413.1 209.3L413.5 209.1L414.0 209.0L414.5 209.1L414.9 209.4L415.4 209.8L415.8 210.4L416.3 211.2L416.7 212.1L417.2 213.2L417.6 214.5L418.1 215.9L418.6 217.4L419.0 219.0L419.5 220.7L419.9 222.5L420.4 224.4L420.8 226.4L421.3 228.4L421.7 230.4L422.2 232.4L422.7 233.9L423.1 237.2L423.6 237.2L424.0 241.4L424.5 239.9L424.9 247.2L425.4 243.7L425.8 247.5L426.3 245.1L426.8 256.5L427.2 246.8L427.7 252.7L428.1 242.3L428.6 254.4L429.0 249.3L429.5 258.3L429.9 240.4L430.4 255.9L430.9 243.8L431.3 260.4L431.8 242.6L432.2 261.0L432.7 249.0L433.1 255.1L433.6 243.8L434.1 251.3L434.5 246.6L435.0 248.9L435.4 244.2L435.9 247.5L436.3 242.2L436.8 243.2L437.3 239.9L437.7 241.0L438.2 237.7L438.6 236.9L439.1 235.4L439.6 233.9L440.0 232.4L440.5 231.0L440.9 229.7L441.4 228.4L441.8 227.3L442.3 226.3L442.8 225.3L443.2 224.6L443.7 223.9L444.1 223.4L444.6 223.0L445.0 222.8L445.5 222.7L446.0 222.8L446.4 223.1L446.9 223.5L447.3 224.1L447.8 224.9L448.2 225.9L448.7 227.0L449.2 228.2L449.6 229.6L450.1 231.1L450.5 232.7L451.0 234.4L451.4 236.2L451.9 238.0L452.4 239.7L452.8 241.8L453.3 242.9L453.7 245.6L454.2 244.2L454.7 252.8L455.1 248.0L455.6 255.7L456.0 249.9L456.5 255.8L456.9 247.4L457.4 258.4L457.9 255.3L458.3 274.3L458.8 256.7L459.2 261.9L459.7 254.6L460.1 262.6L460.6 280.1L461.1 253.9L461.5 266.0L462.0 249.2L462.4 261.3L462.9 255.1L463.3 272.4L463.8 253.5L464.3 257.1L464.7 252.1L465.2 261.8L465.6 246.8L466.1 252.5L466.6 246.8L467.0 246.6L467.5 242.4L467.9 243.5L468.4 239.2L468.8 238.1L469.3 235.9L469.8 233.6L470.2 231.4L470.7 229.3L471.1 227.1L471.6 225.1L472.0 223.1L472.5 221.2L473.0 219.4L473.4 217.7L473.9 216.1L474.3 214.7L474.8 213.4L475.3 212.2L475.7 211.3L476.2 210.5L476.6 209.8L477.1 209.4L477.5 209.1L478.0 209.0L478.5 209.1L478.9 209.3L479.4 209.8L479.8 210.4L480.3 211.1L480.7 212.0L481.2 213.1L481.6 214.3L482.1 215.6L482.5 217.0L483.0 218.6L483.5 220.2L483.9 222.0L484.4 223.8L484.8 225.6L485.3 227.5L485.7 228.8L486.2 231.3L486.6 232.1L487.1 237.3L487.5 234.4L488.0 238.8L488.4 238.4L488.9 242.1L489.4 239.4L489.8 245.1L490.3 237.6L490.7 249.5L491.2 237.8L491.6 258.6L492.1 243.8L492.5 260.9L493.0 242.9L493.4 258.1L493.9 251.7L494.4 246.8L494.8 251.5L495.3 242.3L495.7 250.6L496.2 245.2L496.6 249.2L497.1 239.1L497.6 247.4L498.0 241.7L498.5 245.1L498.9 239.9L499.4 242.5L499.8 239.4L500.3 239.7L500.8 235.0L501.2 237.9L501.7 234.2L502.1 233.7L502.6 232.3L503.1 230.8L503.5 229.4L504.0 228.1L504.4 226.8L504.9 225.6L505.3 224.6L505.8 223.6L506.3 222.7L506.7 222.0L507.2 221.3L507.6 220.8L508.1 220.5L508.5 220.3L509.0 220.2L509.5 220.3L509.9 220.5L510.4 221.0L510.8 221.6L511.3 222.3L511.7 223.2L512.2 224.3L512.6 225.4L513.1 226.8L513.6 228.2L514.0 229.8L514.5 231.4L514.9 233.1L515.4 234.9L515.8 236.8L516.3 238.7L516.7 240.6L517.2 243.3L517.7 243.9L518.1 247.3L518.6 246.8L519.0 250.3L519.5 250.4L519.9 259.4L520.4 252.4L520.8 263.5L521.3 252.2L521.8 259.8L522.2 252.5L522.7 274.5L523.1 252.8L523.6 268.5L524.0 255.0L524.5 264.7L524.9 256.9L525.4 275.8L525.9 258.5L526.3 264.7L526.8 251.2L527.2 274.3L527.7 252.5L528.1 274.1L528.6 250.6L529.0 266.1L529.5 250.5L529.9 257.0L530.4 251.3L530.8 253.7L531.3 247.4L531.7 252.1L532.2 246.2L532.6 249.2L533.1 242.6L533.5 242.0L534.0 239.9L534.4 237.8L534.9 235.7L535.3 233.6L535.8 231.5L536.2 229.5L536.7 227.6L537.1 225.7L537.6 224.0L538.0 222.3L538.5 220.7L538.9 219.2L539.4 217.9L539.8 216.7L540.3 215.7L540.7 214.8L541.2 214.0L541.6 213.4L542.1 213.0L542.5 212.7L543.0 212.7L543.5 212.7L543.9 213.0L544.4 213.4L544.8 214.1L545.3 214.8L545.7 215.8L546.2 216.8L546.7 218.1L547.1 219.4L547.6 220.9L548.0 222.4L548.5 224.1L548.9 225.8L549.4 227.6L549.9 229.0L550.3 231.3L550.8 232.3L551.2 235.0L551.7 232.7L552.2 238.6L552.6 237.4L553.1 245.9L553.5 239.1L554.0 245.0L554.4 242.9L554.9 252.7L555.4 245.0L555.8 259.4L556.3 239.0L556.7 251.0L557.2 240.0L557.6 251.7L558.1 251.7L558.6 236.8L559.0 260.2L559.5 244.2L559.9 250.7L560.4 244.0L560.8 249.4L561.3 238.5L561.7 247.7L562.2 242.5L562.6 245.6L563.1 240.2L563.6 243.2L564.0 239.3L564.5 243.0L564.9 237.8L565.4 237.7L565.8 234.7L566.3 234.8L566.7 233.3L567.2 231.9L567.6 230.5L568.1 229.1L568.5 227.8L569.0 226.6L569.5 225.4L569.9 224.3L570.4 223.3L570.8 222.4L571.3 221.6L571.7 220.9L572.2 220.3L572.6 219.9L573.1 219.5L573.5 219.4L574.0 219.3L574.5 219.4L574.9 219.7L575.4 220.2L575.8 221.0L576.3 221.9L576.7 223.1L577.2 224.4L577.6 225.9L578.1 227.5L578.5 229.3L579.0 231.2L579.4 233.2L579.9 235.3L580.3 237.5L580.8 239.3L581.2 242.9L581.7 243.1L582.1 247.4L582.6 246.4L583.0 253.0L583.5 250.0L583.9 259.2L584.4 249.7L584.8 258.6L585.3 253.4L585.7 261.7L586.2 257.9L586.6 264.2L587.1 256.7L587.5 265.9L588.0 255.2L588.4 273.5L588.9 272.9L589.4 256.1L589.8 276.1L590.3 261.7L590.7 276.8L591.2 259.2L591.7 264.2L592.1 256.4L592.6 271.2L593.0 256.6L593.5 259.8L594.0 255.5L594.4 261.9L594.9 252.2L595.4 255.6L595.8 250.0L596.3 250.1L596.7 247.8L597.2 246.7L597.7 244.5L598.1 242.5L598.6 240.6L599.0 238.7L599.5 236.8L600.0 234.9L600.4 233.0L600.9 231.2L601.3 229.5L601.8 227.8L602.3 226.3L602.7 224.8L603.2 223.4L603.7 222.1L604.1 220.9L604.6 219.9L605.0 218.9L605.5 218.1L606.0 217.5L606.4 217.0L606.9 216.6L607.3 216.4L607.8 216.3L608.3 216.4L608.7 216.7L609.2 217.2L609.6 217.8L610.1 218.7L610.6 219.7L611.0 220.9L611.5 222.2L611.9 223.6L612.4 225.2L612.9 226.8L613.3 228.6L613.8 229.8L614.2 232.5L614.7 231.5L615.2 235.9L615.6 233.2L616.1 239.5L616.5 236.6L617.0 242.9L617.5 237.2L617.9 245.9L618.4 240.5L618.8 248.4L619.3 239.4L619.8 250.2L620.2 245.3L620.7 251.4L621.1 246.7L621.6 251.7L622.1 240.2L622.5 255.4L623.0 241.0L623.4 253.6L623.9 238.6L624.3 249.3L624.8 242.4L625.2 248.9L625.7 239.2L626.2 246.3L626.6 239.1L627.1 243.3L627.5 236.8L628.0 239.7L628.4 236.0L628.9 236.9L629.3 234.3L629.8 233.6L630.3 231.9L630.7 230.3L631.2 228.7L631.6 227.2L632.1 225.7L632.5 224.3L633.0 223.0L633.4 221.7L633.9 220.5L634.4 219.4L634.8 218.5L635.3 217.6L635.7 216.9L636.2 216.3L636.6 215.8L637.1 215.4L637.5 215.2L638.0 215.2L638.5 215.3L638.9 215.6L639.4 216.1L639.8 216.8L640.3 217.7L640.8 218.8L641.2 220.0L641.7 221.5L642.1 223.1L642.6 224.8L643.1 226.7L643.5 228.7L644.0 230.8L644.4 232.9L644.9 235.2L645.4 237.5L645.8 239.9L646.3 242.3L646.7 244.4L647.2 248.0L647.6 248.3L648.1 251.8L648.6 250.4L649.0 256.3L649.5 255.7L649.9 264.7L650.4 259.8L650.9 267.8L651.3 259.3L651.8 267.0L652.2 258.5L652.7 269.3L653.2 256.8" stroke="#464646" stroke-width="2" stroke-dasharray="1.9 1.7"/></g><line x1="423" y1="43" x2="475.5" y2="43" stroke="#1c6ae0" stroke-width="2"/><line x1="423.5" y1="79" x2="475" y2="79" stroke="#f03c41" stroke-width="2" stroke-dasharray="9 10"/><line x1="423.5" y1="116" x2="475" y2="116" stroke="#464646" stroke-width="2" stroke-dasharray="2 9.1"/><text x="481" y="50.4" font-family="Liberation Serif" font-weight="bold" font-size="22.6" fill="#111">k<tspan font-size="15" dy="6">1</tspan><tspan dy="-6">=2.9×10</tspan><tspan font-size="15" dy="-11">9</tspan><tspan dy="11">N/m</tspan></text><text x="481" y="86.6" font-family="Liberation Serif" font-weight="bold" font-size="22.6" fill="#111">k<tspan font-size="15" dy="6">1</tspan><tspan dy="-6">=1.45×10</tspan><tspan font-size="15" dy="-11">9</tspan><tspan dy="11">N/m</tspan></text><text x="481" y="122.2" font-family="Liberation Serif" font-weight="bold" font-size="22.6" fill="#111">k<tspan font-size="15" dy="6">1</tspan><tspan dy="-6">=5.8×10</tspan><tspan font-size="15" dy="-11">9</tspan><tspan dy="11">N/m</tspan></text></svg></body></html>
